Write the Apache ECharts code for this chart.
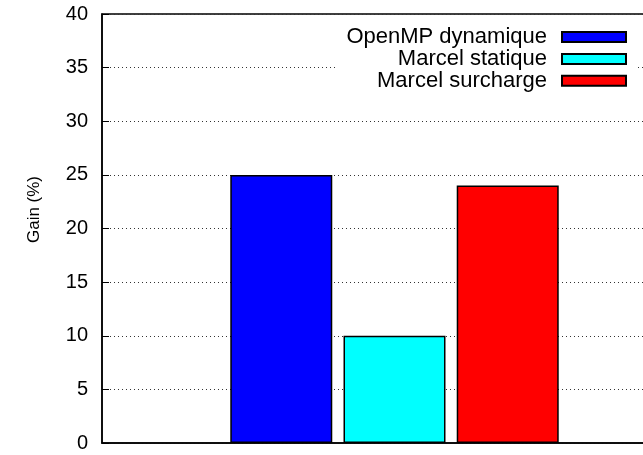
<!DOCTYPE html>
<html>
<head>
<meta charset="utf-8">
<script src="https://cdn.jsdelivr.net/npm/echarts@6/dist/echarts.min.js"></script>
<style>
  html, body { margin: 0; padding: 0; background: #fff; overflow: hidden; }
  /* the plot runs past the right edge of the picture, so the div is wider than the window */
  #chart { width: 687px; height: 455px; }
</style>
</head>
<body>
<div id="chart"></div>
<script>
// data
const categories = [''];
const openmpDynamique = [25];
const marcelStatique = [10];
const marcelSurcharge = [24];
const yMin = 0, yMax = 40, yStep = 5;

const chart = echarts.init(document.getElementById('chart'));

const barStyle = (color) => ({
  color: color,
  borderColor: '#000',
  borderWidth: 1.5
});

chart.setOption({
  animation: false,
  textStyle: { fontFamily: 'Liberation Sans' },
  grid: {
    left: 102,
    right: 0,
    top: 14,
    bottom: 12,
    show: true,
    borderColor: '#000',
    borderWidth: 1.5
  },
  // legend sits on a white box that hides the gridline behind it
  legend: {
    orient: 'vertical',
    right: 49,
    top: 21,
    align: 'right',
    padding: [5, 11, 5, 11],
    backgroundColor: '#fff',
    itemWidth: 64,
    itemHeight: 10,
    itemGap: -0.1,
    icon: 'rect',
    textStyle: {
      fontSize: 22,
      lineHeight: 21,
      color: '#000',
      padding: [0, 10, 0, 0]
    },
    data: ['OpenMP dynamique', 'Marcel statique', 'Marcel surcharge']
  },
  xAxis: {
    type: 'category',
    data: categories,
    axisLine: { lineStyle: { color: '#000', width: 1.5 } },
    axisTick: { show: false },
    axisLabel: { show: false }
  },
  yAxis: {
    type: 'value',
    min: yMin,
    max: yMax,
    interval: yStep,
    name: 'Gain (%)',
    nameLocation: 'middle',
    nameRotate: 90,
    nameGap: 59,
    nameTextStyle: { fontSize: 17, color: '#000', padding: [0, 0, 0, 38] },
    axisLine: { show: true, lineStyle: { color: '#000', width: 1.5 } },
    axisTick: { show: true, inside: true, length: 7, lineStyle: { color: '#000', width: 1 } },
    axisLabel: { fontSize: 20, color: '#000', margin: 14 },
    splitLine: {
      show: true,
      lineStyle: { color: '#333', type: [1, 3], width: 1 }
    }
  },
  series: [
    {
      name: 'OpenMP dynamique',
      type: 'bar',
      data: openmpDynamique,
      barWidth: 102,
      barGap: '11%',
      itemStyle: barStyle('#0000ff')
    },
    {
      name: 'Marcel statique',
      type: 'bar',
      data: marcelStatique,
      barWidth: 102,
      barGap: '11%',
      itemStyle: barStyle('#00ffff')
    },
    {
      name: 'Marcel surcharge',
      type: 'bar',
      data: marcelSurcharge,
      barWidth: 102,
      barGap: '11%',
      itemStyle: barStyle('#ff0000')
    }
  ]
});

window.onresize = function () {
  chart.resize();
};
</script>
</body>
</html>
